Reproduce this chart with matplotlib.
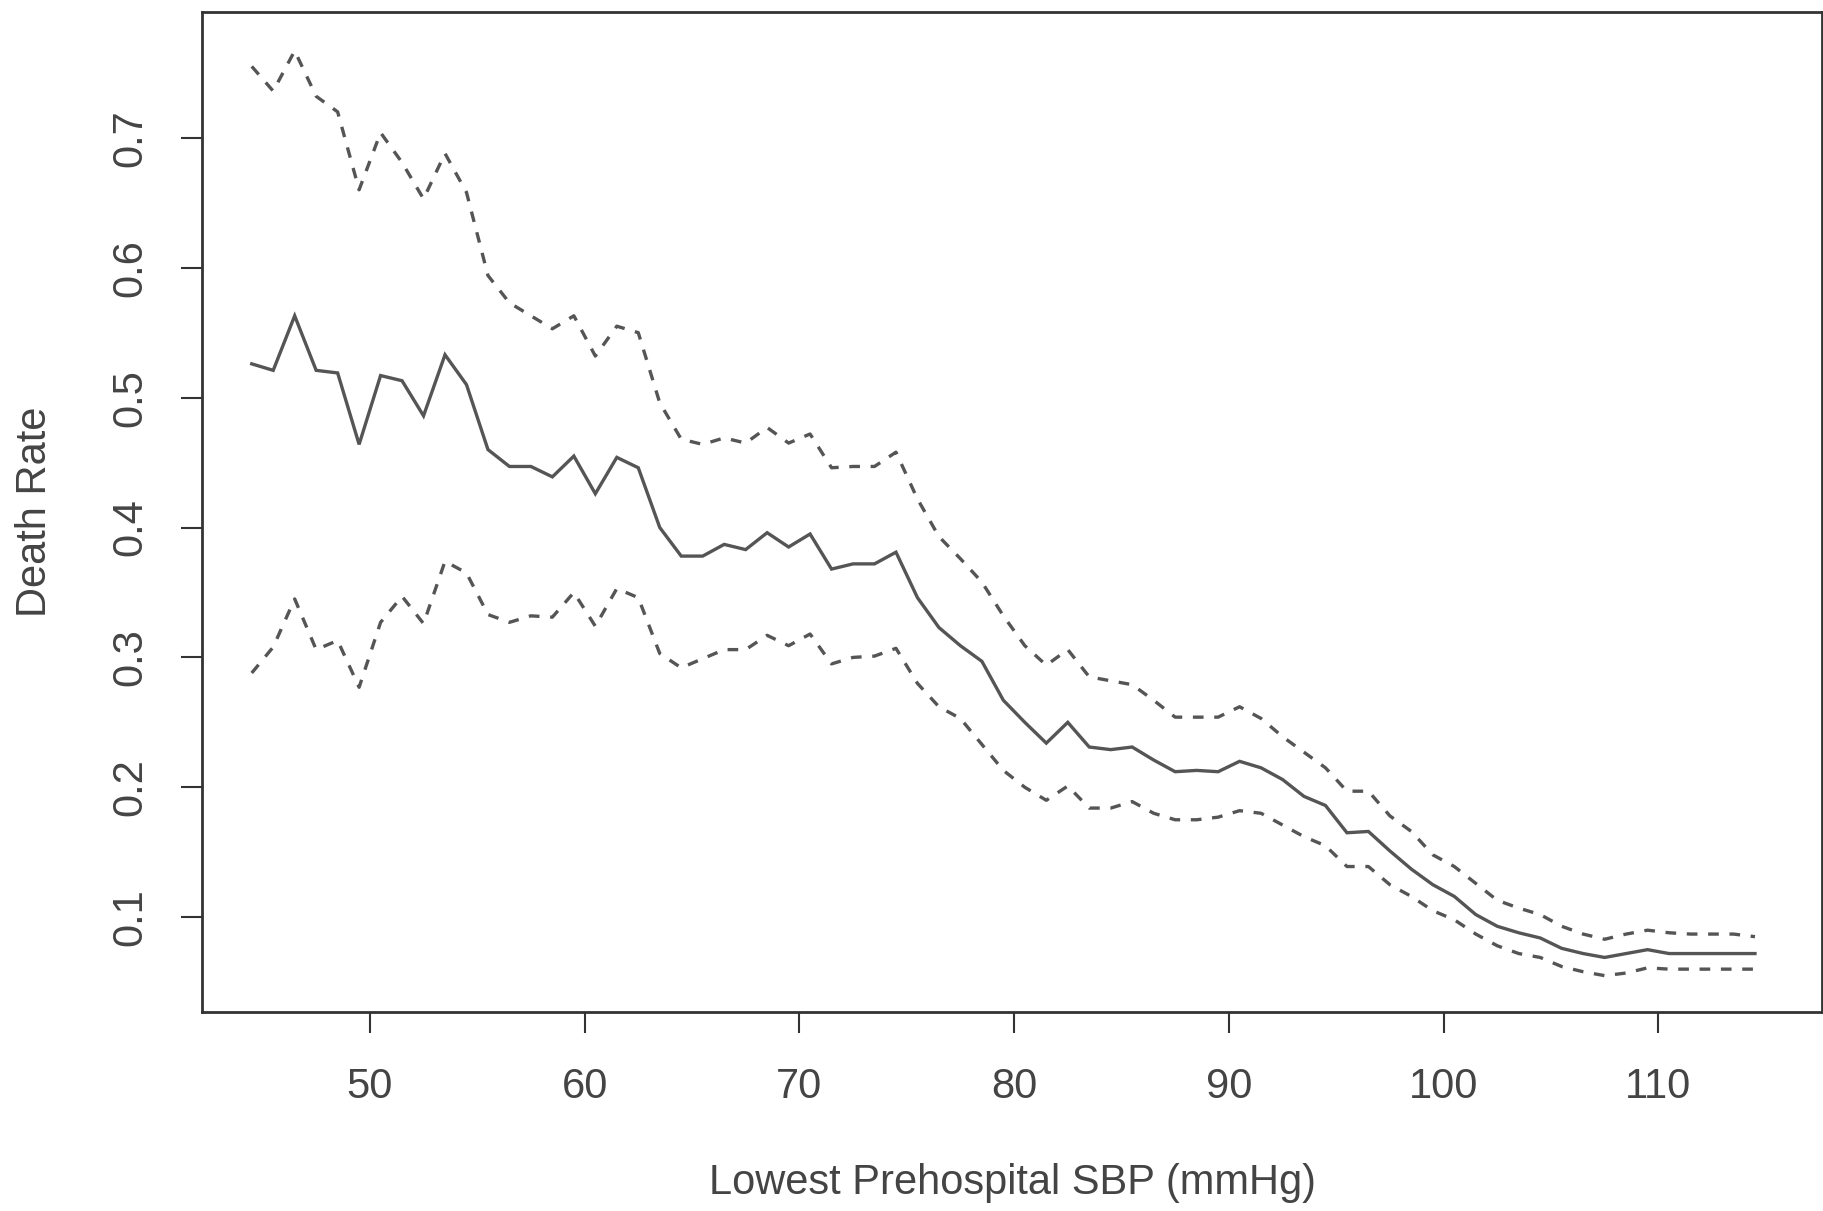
import matplotlib
matplotlib.use("Agg")
import matplotlib.pyplot as plt

plt.rcParams["font.family"] = ["Liberation Sans", "DejaVu Sans"]

# lowest prehospital SBP bins (mmHg)
sbp = [
    44.5, 45.5, 46.5, 47.5, 48.5, 49.5, 50.5, 51.5, 52.5, 53.5,
    54.5, 55.5, 56.5, 57.5, 58.5, 59.5, 60.5, 61.5, 62.5, 63.5,
    64.5, 65.5, 66.5, 67.5, 68.5, 69.5, 70.5, 71.5, 72.5, 73.5,
    74.5, 75.5, 76.5, 77.5, 78.5, 79.5, 80.5, 81.5, 82.5, 83.5,
    84.5, 85.5, 86.5, 87.5, 88.5, 89.5, 90.5, 91.5, 92.5, 93.5,
    94.5, 95.5, 96.5, 97.5, 98.5, 99.5, 100.5, 101.5, 102.5, 103.5,
    104.5, 105.5, 106.5, 107.5, 108.5, 109.5, 110.5, 111.5, 112.5, 113.5,
    114.5,
]

death_rate = [
    0.526, 0.521, 0.563, 0.521, 0.519, 0.464, 0.517, 0.513, 0.486, 0.533,
    0.510, 0.460, 0.447, 0.447, 0.439, 0.455, 0.426, 0.454, 0.446, 0.400,
    0.378, 0.378, 0.387, 0.383, 0.396, 0.385, 0.395, 0.368, 0.372, 0.372,
    0.381, 0.346, 0.323, 0.309, 0.297, 0.267, 0.250, 0.234, 0.250, 0.231,
    0.229, 0.231, 0.221, 0.212, 0.213, 0.212, 0.220, 0.215, 0.206, 0.193,
    0.186, 0.165, 0.166, 0.151, 0.137, 0.125, 0.116, 0.102, 0.093, 0.088,
    0.084, 0.076, 0.072, 0.069, 0.072, 0.075, 0.072, 0.072, 0.072, 0.072,
    0.072,
]

upper_ci = [
    0.755, 0.736, 0.767, 0.732, 0.720, 0.660, 0.704, 0.681, 0.653, 0.688,
    0.658, 0.594, 0.573, 0.563, 0.553, 0.563, 0.532, 0.555, 0.550, 0.496,
    0.468, 0.464, 0.469, 0.465, 0.477, 0.465, 0.472, 0.446, 0.447, 0.447,
    0.458, 0.422, 0.393, 0.376, 0.358, 0.332, 0.309, 0.294, 0.306, 0.285,
    0.282, 0.279, 0.267, 0.254, 0.254, 0.254, 0.262, 0.253, 0.239, 0.227,
    0.215, 0.197, 0.197, 0.178, 0.166, 0.148, 0.139, 0.126, 0.113, 0.107,
    0.102, 0.093, 0.087, 0.083, 0.087, 0.090, 0.088, 0.087, 0.087, 0.087,
    0.085,
]

lower_ci = [
    0.288, 0.308, 0.345, 0.306, 0.313, 0.277, 0.327, 0.347, 0.326, 0.374,
    0.365, 0.333, 0.327, 0.332, 0.331, 0.350, 0.324, 0.353, 0.346, 0.303,
    0.292, 0.299, 0.306, 0.306, 0.317, 0.309, 0.318, 0.295, 0.300, 0.301,
    0.307, 0.280, 0.262, 0.253, 0.233, 0.213, 0.200, 0.190, 0.201, 0.184,
    0.184, 0.189, 0.180, 0.175, 0.175, 0.177, 0.182, 0.180, 0.171, 0.162,
    0.155, 0.139, 0.139, 0.125, 0.116, 0.105, 0.098, 0.087, 0.078, 0.072,
    0.069, 0.062, 0.058, 0.055, 0.057, 0.061, 0.060, 0.060, 0.060, 0.060,
    0.060,
]

x_ticks = [50, 60, 70, 80, 90, 100, 110]
y_ticks = [0.1, 0.2, 0.3, 0.4, 0.5, 0.6, 0.7]

line_color = "#555555"
text_color = "#444444"

fig = plt.figure(figsize=(18.24, 12.11), dpi=100)
ax = fig.add_axes([0.1107, 0.164, 0.8883, 0.826])

ax.plot(sbp, death_rate, color=line_color, linewidth=2.4, solid_joinstyle="miter")
ax.plot(sbp, upper_ci, color=line_color, linewidth=2.4, linestyle=(0, (3.2, 3.2)))
ax.plot(sbp, lower_ci, color=line_color, linewidth=2.4, linestyle=(0, (3.2, 3.2)))

ax.set_xlim(42.18, 117.63)
ax.set_ylim(0.0267, 0.7968)

ax.set_xticks(x_ticks)
ax.set_xticklabels([str(t) for t in x_ticks])
ax.set_yticks(y_ticks)
ax.set_yticklabels([f"{t:.1f}" for t in y_ticks], rotation=90, va="center")

ax.tick_params(axis="both", direction="out", length=15, width=1.5,
               color="#333333", labelsize=30, labelcolor=text_color)
ax.tick_params(axis="x", pad=24)
ax.tick_params(axis="y", pad=22)

for spine in ax.spines.values():
    spine.set_color("#333333")
    spine.set_linewidth(2.0)

ax.set_xlabel("Lowest Prehospital SBP (mmHg)", fontsize=30, color=text_color,
              va="center")
ax.set_ylabel("Death Rate", fontsize=30, color=text_color, va="center")
ax.xaxis.set_label_coords(0.5, -0.171)
ax.yaxis.set_label_coords(-0.103, 0.5)

fig.savefig("out.png", dpi=100)
